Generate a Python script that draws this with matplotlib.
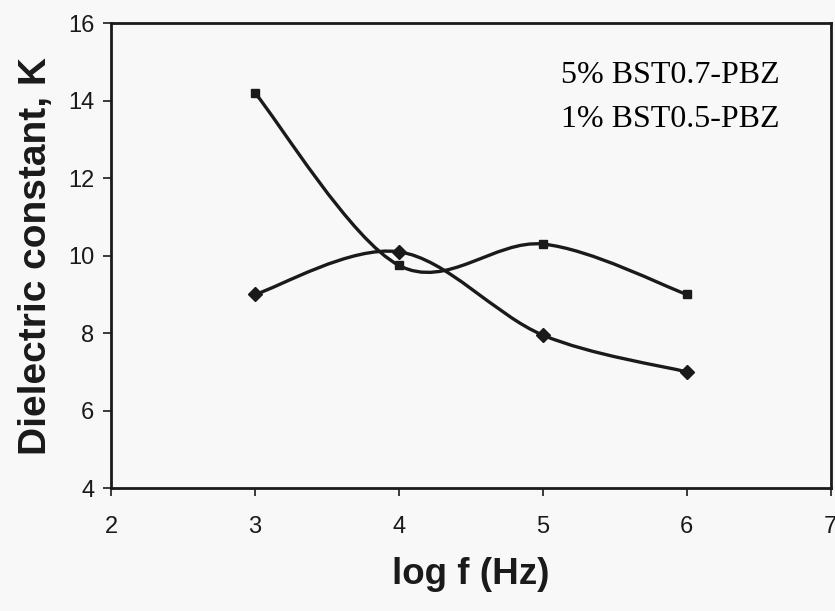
import matplotlib
matplotlib.use('Agg')
import matplotlib.pyplot as plt
from matplotlib.path import Path
from matplotlib.patches import PathPatch
import numpy as np

log_f = [3, 4, 5, 6]
k_bst07 = [14.2, 9.75, 10.3, 9.0]
k_bst05 = [9.0, 10.1, 7.95, 7.0]
labels = ['5% BST0.7-PBZ', '1% BST0.5-PBZ']

xticks = [2, 3, 4, 5, 6, 7]
yticks = [4, 6, 8, 10, 12, 14, 16]

fonte_eixo = 'Liberation Sans'
fonte_legenda = 'Liberation Serif'
cor = '#1a1a1a'


def curva_suave(xs, ys):
    # smoothed line through the points, bezier segments like a spreadsheet "smoothed line"
    p = np.column_stack([xs, ys]).astype(float)
    n = len(p)
    verts = [p[0]]
    codes = [Path.MOVETO]
    for i in range(n - 1):
        p0 = p[i - 1] if i > 0 else p[i]
        p3 = p[i + 2] if i + 2 < n else p[i + 1]
        c1 = p[i] + (p[i + 1] - p0) / 6.0
        c2 = p[i + 1] - (p3 - p[i]) / 6.0
        verts += [c1, c2, p[i + 1]]
        codes += [Path.CURVE4] * 3
    return Path(verts, codes)


fig = plt.figure(figsize=(8.35, 6.11), dpi=100)
fig.patch.set_facecolor('#f8f8f8')
ax = fig.add_axes([0.133, 0.201, 0.862, 0.761])
ax.set_facecolor('#f8f8f8')

for ys, marker, ms, lab in [(k_bst07, 's', 6, labels[0]), (k_bst05, 'D', 7, labels[1])]:
    ax.add_patch(PathPatch(curva_suave(log_f, ys), facecolor='none', edgecolor=cor, linewidth=2.4))
    ax.plot(log_f, ys, linestyle='none', marker=marker, markersize=ms, color=cor, label=lab)

ax.set_xlim(2, 7)
ax.set_ylim(4, 16)
ax.set_xticks(xticks)
ax.set_yticks(yticks)
ax.tick_params(direction='out', length=6, width=1.2, labelsize=17, pad=14, colors=cor)
ax.tick_params(axis='y', pad=6)
for lab in ax.get_xticklabels() + ax.get_yticklabels():
    lab.set_family(fonte_eixo)

for s in ax.spines.values():
    s.set_linewidth(2)
    s.set_color(cor)

ax.set_xlabel('log f (Hz)', fontsize=26.5, fontweight='bold', family=fonte_eixo,
              labelpad=14, color=cor)
ax.set_ylabel('Dielectric constant, K', fontsize=28, fontweight='bold', family=fonte_eixo,
              labelpad=10, color=cor)

leg = ax.legend(loc='upper right', bbox_to_anchor=(0.929, 0.92), frameon=False,
                handlelength=0, handletextpad=0, borderpad=0, borderaxespad=0,
                prop={'family': fonte_legenda, 'size': 23}, labelspacing=0.45)
for h in leg.legend_handles:
    h.set_visible(False)

fig.savefig('out.png', dpi=100, facecolor=fig.get_facecolor())
plt.close()
